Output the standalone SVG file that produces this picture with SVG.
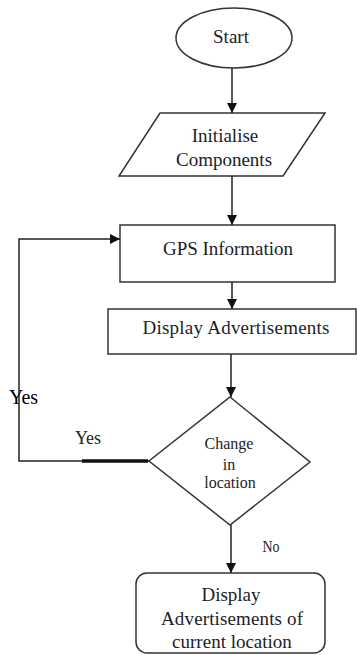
<svg xmlns="http://www.w3.org/2000/svg" width="357" height="655" viewBox="0 0 357 655" font-family="Liberation Serif, Times New Roman, serif">
  <defs>
    <marker id="arrow" viewBox="0 0 10 10" refX="10" refY="5" markerWidth="10" markerHeight="10" markerUnits="userSpaceOnUse" orient="auto">
      <path d="M0,0 L10,5 L0,10 Z" fill="#111"/>
    </marker>
    <style>
      .shape { fill: #fff; stroke: #333; stroke-width: 1.5; }
      .edge { fill: none; stroke: #222; stroke-width: 1.5; }
      .lbl { fill: #1c1c2a; text-anchor: middle; }
      .big { font-size: 19px; }
      .small { font-size: 16px; }
    </style>
  </defs>
  <rect width="357" height="655" fill="#fff"/>

  <g id="start">
    <ellipse class="shape" cx="234" cy="38" rx="58" ry="30"/>
    <text class="lbl big" x="231" y="43">Start</text>
  </g>

  <g id="initialise">
    <polygon class="shape" points="160,113 325,113 283,176 119,176"/>
    <text class="lbl big" x="225" y="142">Initialise</text>
    <text class="lbl big" x="224" y="166">Components</text>
  </g>

  <g id="gps">
    <rect class="shape" x="120" y="225" width="215" height="57"/>
    <text class="lbl big" x="228" y="255" textLength="130">GPS Information</text>
  </g>

  <g id="display">
    <rect class="shape" x="108" y="309" width="248" height="45"/>
    <text class="lbl big" x="236" y="334" textLength="187">Display Advertisements</text>
  </g>

  <g id="decision">
    <polygon class="shape" points="230,397 310,462 230,525 149,461"/>
    <text class="lbl small" x="229" y="449">Change</text>
    <text class="lbl small" x="229" y="470">in</text>
    <text class="lbl small" x="230" y="488">location</text>
  </g>

  <g id="display-current">
    <rect class="shape" x="136" y="573" width="189" height="80" rx="11" ry="11"/>
    <text class="lbl big" x="231" y="601">Display</text>
    <text class="lbl big" x="232" y="625" textLength="142">Advertisements of</text>
    <text class="lbl big" x="232" y="648">current location</text>
  </g>

  <g id="connectors">
    <line class="edge" x1="232" y1="68" x2="232" y2="113" marker-end="url(#arrow)"/>
    <line class="edge" x1="232" y1="176" x2="232" y2="225" marker-end="url(#arrow)"/>
    <line class="edge" x1="232" y1="282" x2="232" y2="309" marker-end="url(#arrow)"/>
    <line class="edge" x1="231" y1="354" x2="231" y2="397" marker-end="url(#arrow)"/>
    <line class="edge" x1="231" y1="525" x2="231" y2="573" marker-end="url(#arrow)"/>
    <polyline class="edge" points="149,461 19,461 19,239 120,239" marker-end="url(#arrow)"/>
    <line stroke="#111" stroke-width="3.5" x1="82" y1="461" x2="148" y2="461"/>
    <text x="9" y="404" font-size="20" fill="#000">Yes</text>
    <text class="lbl" x="88" y="444" font-size="18">Yes</text>
    <text class="lbl" x="271" y="552" font-size="17" textLength="17" lengthAdjust="spacingAndGlyphs">No</text>
  </g>
</svg>
